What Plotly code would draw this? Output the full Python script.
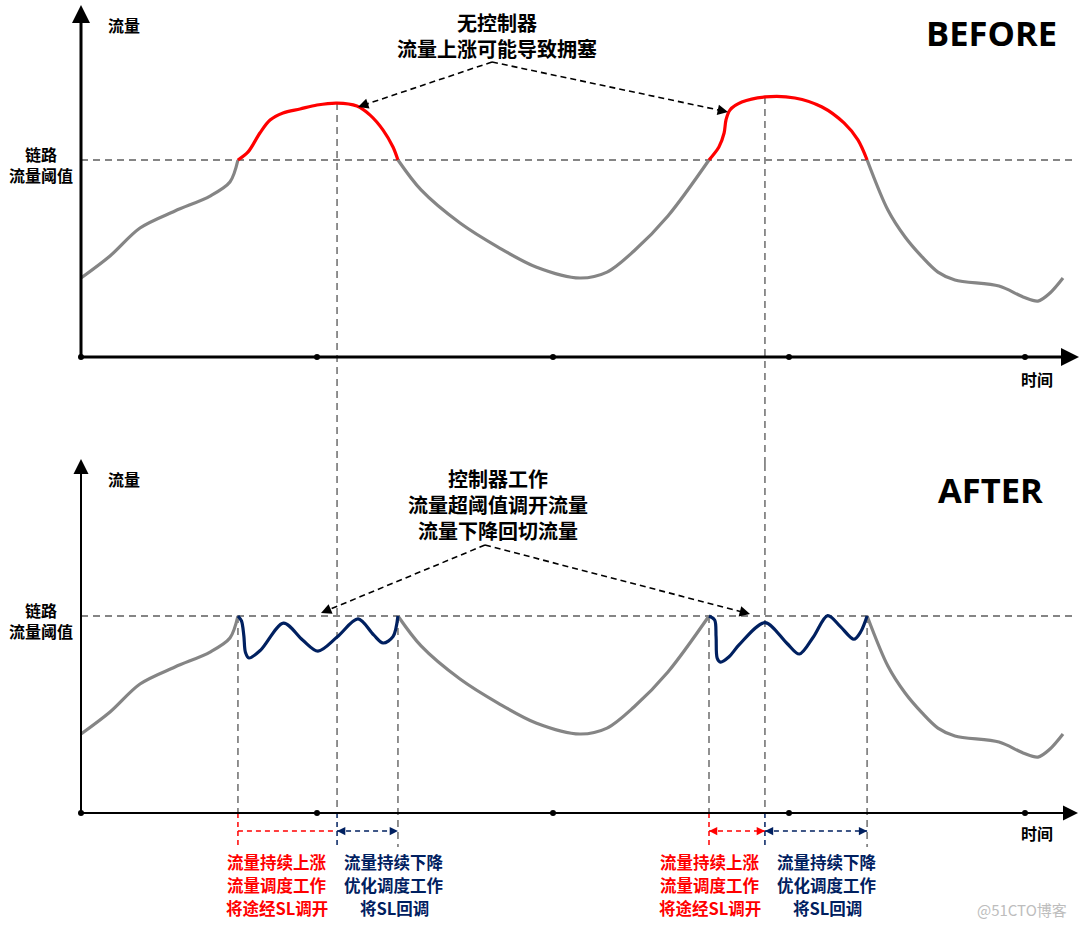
import plotly.graph_objects as go

# ---------------- data (time units: axis dots at 0,10,20,30,40; traffic: threshold = 100) ----------------
base_time = [0, 1.23, 2.5, 3.98, 5.47, 6.31, 6.65,
             7.08, 7.58, 8.01, 8.56, 9.28, 10.0, 10.85, 11.69, 12.25, 12.80, 13.22, 13.43,
             14.41, 16.06, 17.67, 19.28, 21.14, 22.29, 23.43, 24.87, 26.61,
             27.03, 27.25, 27.33, 27.5, 28.0, 28.98, 30.25, 31.4, 32.33, 32.92, 33.31,
             34.19, 34.92, 35.64, 36.31, 37.03, 38.9, 39.92, 40.55, 41.06, 41.61]
base_traffic = [40.1, 51.3, 65.5, 74.1, 81.7, 88.8, 100,
                104.1, 113.7, 120.3, 123.9, 125.9, 127.9, 128.9, 127.4, 122.8, 115.2, 106.6, 100,
                84.8, 68.0, 55.8, 45.7, 40.1, 43.1, 53.8, 71.6, 100,
                106.6, 113.7, 120.3, 125.4, 129.4, 132.0, 131.5, 126.9, 118.8, 110.2, 100,
                74.6, 60.9, 50.8, 43.1, 39.1, 36.0, 30.5, 28.4, 32.5, 40.1]

after_time_1 = [6.65, 6.80, 6.90, 6.97, 7.12, 7.61, 8.58, 9.39, 10.04, 10.85, 11.74, 12.4, 12.8, 13.22, 13.43]
after_traffic_1 = [100, 97.5, 90, 81.5, 78.7, 82.7, 96.4, 87.8, 82.2, 89.3, 98.5, 90.4, 86.3, 89.5, 100]

after_time_2 = [26.61, 26.85, 26.91, 26.96, 27.1, 27.46, 27.88, 28.98, 29.9, 30.44, 31.04, 31.64, 32.18, 32.75, 33.04, 33.31]
after_traffic_2 = [100, 98.0, 89.5, 78.5, 76.6, 79.3, 85.3, 96.6, 86.3, 80.7, 89.5, 100.2, 94.6, 88.2, 92.0, 100]

threshold = 100
tick_times = [0, 10, 20, 30, 40]

y_label = "流量"
x_label = "时间"
threshold_label = "链路<br>流量阈值"
before_title = "BEFORE"
after_title = "AFTER"
before_note = ["无控制器", "流量上涨可能导致拥塞"]
after_note = ["控制器工作", "流量超阈值调开流量", "流量下降回切流量"]
rise_text = ["流量持续上涨", "流量调度工作", "将途经SL调开"]
fall_text = ["流量持续下降", "优化调度工作", "将SL回调"]
watermark = "@51CTO博客"

# ---------------- geometry helpers ----------------
W, H = 1080, 928
X0, PXT = 81, 23.6
BASE_TOP, BASE_BOT, PXV = 357, 813, 1.97


def t_of(px):
    return (px - X0) / PXT


def v_top(py):
    return (BASE_TOP - py) / PXV


def v_bot(py):
    return (BASE_BOT - py) / PXV


def xp(px):
    return px / W


def yp(py):
    return 1 - py / H


GRAY = "#858585"
RED = "#FF0000"
NAVY = "#002060"
CJK = "Noto Sans CJK SC, Open Sans, sans-serif"

fig = go.Figure()

# split base curve into under / over threshold segments
segs = []
for i in range(len(base_time) - 1):
    over = base_traffic[i] >= threshold and base_traffic[i + 1] >= threshold
    if segs and segs[-1][0] == over:
        segs[-1][1].append(base_time[i + 1])
        segs[-1][2].append(base_traffic[i + 1])
    else:
        segs.append([over, [base_time[i], base_time[i + 1]], [base_traffic[i], base_traffic[i + 1]]])

windows = []
for over, ts, vs in segs:
    if over:
        k = vs.index(max(vs))
        windows.append((ts[0], ts[k], ts[-1], vs[k]))

LW = 3.2
for over, ts, vs in segs:
    fig.add_trace(go.Scatter(x=ts, y=vs, mode="lines", xaxis="x", yaxis="y",
                             line=dict(color=RED if over else GRAY, width=LW, shape="spline", smoothing=0.9),
                             hoverinfo="skip"))
    if not over:
        fig.add_trace(go.Scatter(x=ts, y=vs, mode="lines", xaxis="x2", yaxis="y2",
                                 line=dict(color=GRAY, width=LW, shape="spline", smoothing=0.9),
                                 hoverinfo="skip"))

for ts, vs in [(after_time_1, after_traffic_1), (after_time_2, after_traffic_2)]:
    fig.add_trace(go.Scatter(x=ts, y=vs, mode="lines", xaxis="x2", yaxis="y2",
                             line=dict(color=NAVY, width=LW, shape="spline", smoothing=0.9),
                             hoverinfo="skip"))

# axis dots
for xa, ya in [("x", "y"), ("x2", "y2")]:
    fig.add_trace(go.Scatter(x=tick_times, y=[0] * len(tick_times), mode="markers", xaxis=xa, yaxis=ya,
                             marker=dict(color="black", size=6), hoverinfo="skip"))

shapes = []
annotations = []

GDASH = "7px,5px"
# threshold lines
for xa, ya in [("x", "y"), ("x2", "y2")]:
    shapes.append(dict(type="line", xref=xa, yref=ya, x0=0, x1=t_of(1076), y0=threshold, y1=threshold,
                       line=dict(color=GRAY, width=1.8, dash=GDASH), layer="below"))

v_below = v_bot(847)
v_bracket = v_bot(831)
text_centers = [(277, 394), (710, 827)]  # pixel centres of the text blocks below the axis
for n, (t_start, t_peak, t_end, v_peak) in enumerate(windows):
    # peak verticals through both panels
    shapes.append(dict(type="line", xref="x", yref="y", x0=t_peak, x1=t_peak, y0=v_peak, y1=v_top(464),
                       line=dict(color=GRAY, width=1.8, dash=GDASH), layer="below"))
    shapes.append(dict(type="line", xref="x2", yref="y2", x0=t_peak, x1=t_peak, y0=v_bot(464), y1=0,
                       line=dict(color=GRAY, width=1.8, dash=GDASH), layer="below"))
    shapes.append(dict(type="line", xref="x2", yref="y2", x0=t_peak, x1=t_peak, y0=0, y1=v_below,
                       line=dict(color=NAVY, width=1.5, dash="5px,4px")))
    # start crossing
    shapes.append(dict(type="line", xref="x2", yref="y2", x0=t_start, x1=t_start, y0=threshold, y1=0,
                       line=dict(color=GRAY, width=1.8, dash=GDASH), layer="below"))
    shapes.append(dict(type="line", xref="x2", yref="y2", x0=t_start, x1=t_start, y0=0, y1=v_below,
                       line=dict(color=RED, width=1.5, dash="5px,4px")))
    # end crossing
    shapes.append(dict(type="line", xref="x2", yref="y2", x0=t_end, x1=t_end, y0=threshold, y1=v_below,
                       line=dict(color=GRAY, width=1.8, dash=GDASH), layer="below"))
    # brackets
    fig.add_trace(go.Scatter(x=[t_start, t_peak], y=[v_bracket, v_bracket], mode="lines", xaxis="x2", yaxis="y2",
                             line=dict(color=RED, width=1.5, dash="5px,4px"), hoverinfo="skip"))
    fig.add_trace(go.Scatter(x=[t_peak, t_end], y=[v_bracket, v_bracket], mode="lines", xaxis="x2", yaxis="y2",
                             line=dict(color=NAVY, width=1.5, dash="5px,4px"), hoverinfo="skip"))
    heads = [(t_peak, t_peak + 0.3, NAVY), (t_end, t_end - 0.3, NAVY)]
    if n == 1:
        heads += [(t_start, t_start + 0.3, RED), (t_peak, t_peak - 0.3, RED)]
    for tip, tail, col in heads:
        annotations.append(dict(xref="x2", yref="y2", axref="x2", ayref="y2", x=tip, y=v_bracket,
                                ax=tail, ay=v_bracket, text="", showarrow=True, arrowhead=2,
                                arrowsize=1.1, arrowwidth=1.5, arrowcolor=col, standoff=0))
    # texts below
    cx_r, cx_b = text_centers[n]
    for j, py in enumerate([862, 885, 908]):
        annotations.append(dict(xref="paper", yref="paper", x=xp(cx_r), y=yp(py), text="<b>%s</b>" % rise_text[j],
                                showarrow=False, font=dict(family=CJK, size=16.5, color=RED),
                                xanchor="center", yanchor="middle", borderpad=0))
        annotations.append(dict(xref="paper", yref="paper", x=xp(cx_b), y=yp(py), text="<b>%s</b>" % fall_text[j],
                                showarrow=False, font=dict(family=CJK, size=16.5, color=NAVY),
                                xanchor="center", yanchor="middle", borderpad=0))

# axes with arrows
for xa, ya, vfun, ytip, xtip, lw, asz in [("x", "y", v_top, 5, 1079, 3, 1.2), ("x2", "y2", v_bot, 459, 1078, 2, 1.5)]:
    annotations.append(dict(xref=xa, yref=ya, axref=xa, ayref=ya, x=0, y=vfun(ytip), ax=0, ay=0,
                            text="", showarrow=True, arrowhead=2, arrowsize=asz, arrowwidth=lw,
                            arrowcolor="black", standoff=0))
    annotations.append(dict(xref=xa, yref=ya, axref=xa, ayref=ya, x=t_of(xtip), y=0, ax=0, ay=0,
                            text="", showarrow=True, arrowhead=2, arrowsize=asz, arrowwidth=lw,
                            arrowcolor="black", standoff=0))

# dashed black callout arrows (pixel layout positions)
callouts = [("x", "y", v_top, (492, 62), [(358, 107), (728, 112)]),
            ("x2", "y2", v_bot, (485, 545), [(321, 613), (750, 614)])]
for xa, ya, vfun, apex, tips in callouts:
    for tip in tips:
        dx, dy = apex[0] - tip[0], apex[1] - tip[1]
        L = (dx * dx + dy * dy) ** 0.5
        back = (tip[0] + dx / L * 9, tip[1] + dy / L * 9)
        fig.add_trace(go.Scatter(x=[t_of(apex[0]), t_of(back[0])], y=[vfun(apex[1]), vfun(back[1])],
                                 mode="lines", xaxis=xa, yaxis=ya,
                                 line=dict(color="black", width=1.6, dash="6px,4px"), hoverinfo="skip"))
        annotations.append(dict(xref=xa, yref=ya, axref=xa, ayref=ya, x=t_of(tip[0]), y=vfun(tip[1]),
                                ax=t_of(back[0]), ay=vfun(back[1]), text="", showarrow=True, arrowhead=2,
                                arrowsize=1.3, arrowwidth=1.6, arrowcolor="black", standoff=0))


def label(px, py, text, size, color="black", family=CJK, bold=True):
    if bold:
        text = "<br>".join("<b>%s</b>" % s for s in text.split("<br>"))
    annotations.append(dict(xref="paper", yref="paper", x=xp(px), y=yp(py),
                            text=text, showarrow=False,
                            font=dict(family=family, size=size, color=color),
                            xanchor="center", yanchor="middle", borderpad=0))


label(124, 25, y_label, 16)
label(124, 479, y_label, 16)
label(41, 164, threshold_label, 16)
label(41, 620, threshold_label, 16)
label(1037, 379, x_label, 16)
label(1037, 833, x_label, 16)
label(991, 33, before_title, 34.5, family="Open Sans, sans-serif")
label(990, 489, after_title, 34.5, family="Open Sans, sans-serif")
label(497, 35, "<br>".join(before_note), 20)
label(498, 504, "<br>".join(after_note), 20)
label(1022, 909, watermark, 15, color="#BDBDBD", bold=False)

xr = [t_of(0), t_of(W)]
fig.update_layout(
    width=W, height=H, margin=dict(l=0, r=0, t=0, b=0),
    paper_bgcolor="white", plot_bgcolor="white", showlegend=False,
    xaxis=dict(domain=[0, 1], range=xr, visible=False, anchor="y"),
    yaxis=dict(domain=[0.5, 1], range=[v_top(464), v_top(0)], visible=False, anchor="x"),
    xaxis2=dict(domain=[0, 1], range=xr, visible=False, anchor="y2"),
    yaxis2=dict(domain=[0, 0.5], range=[v_bot(928), v_bot(464)], visible=False, anchor="x2"),
    shapes=shapes, annotations=annotations,
)

fig.write_html("out.html")
